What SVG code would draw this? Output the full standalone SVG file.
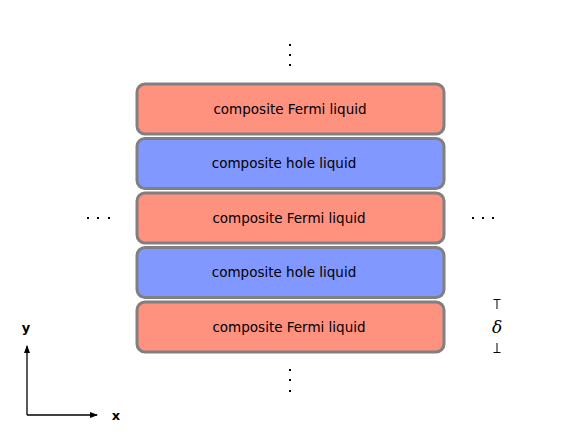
<svg xmlns="http://www.w3.org/2000/svg" width="581" height="436" viewBox="0 0 581 436">
<style>
.box{stroke:#808080;stroke-width:3}
.cfl{fill:#FF917F}
.chl{fill:#8098FF}
.lbl{font-family:"DejaVu Sans",sans-serif;font-size:13.5px;fill:#000;text-anchor:middle}
.dot{fill:#000}
.ax{stroke:#000;stroke-width:1.3;fill:none}
.tick{stroke:#000;stroke-width:1;fill:none}
.axl{font-family:"DejaVu Sans",sans-serif;font-size:13px;font-weight:bold;fill:#000;text-anchor:middle}
</style>
<defs>
<marker id="ah" markerWidth="8" markerHeight="6" refX="7" refY="3" orient="auto" markerUnits="userSpaceOnUse">
<path d="M0,0 L8,3 L0,6 Z" fill="#000"/>
</marker>
</defs>
<rect width="581" height="436" fill="#fff"/>
<g id="layer1"><rect class="box cfl" x="137" y="84" width="307" height="50" rx="8"/><text class="lbl" x="290" y="113.5">composite Fermi liquid</text></g>
<g id="layer2"><rect class="box chl" x="137" y="138.5" width="307" height="50" rx="8"/><text class="lbl" x="284" y="168">composite hole liquid</text></g>
<g id="layer3"><rect class="box cfl" x="137" y="193" width="307" height="50" rx="8"/><text class="lbl" x="289" y="222.5">composite Fermi liquid</text></g>
<g id="layer4"><rect class="box chl" x="137" y="247.5" width="307" height="50" rx="8"/><text class="lbl" x="284" y="277">composite hole liquid</text></g>
<g id="layer5"><rect class="box cfl" x="137" y="302" width="307" height="50" rx="8"/><text class="lbl" x="289" y="331.5">composite Fermi liquid</text></g>
<g id="dots">
<rect class="dot" x="289" y="44" width="2" height="2"/><rect class="dot" x="289" y="54" width="2" height="2"/><rect class="dot" x="289" y="64" width="2" height="2"/>
<rect class="dot" x="289" y="369" width="2" height="2"/><rect class="dot" x="289" y="379" width="2" height="2"/><rect class="dot" x="289" y="390" width="2" height="2"/>
<rect class="dot" x="87" y="217" width="2" height="2"/><rect class="dot" x="97" y="217" width="2" height="2"/><rect class="dot" x="108" y="217" width="2" height="2"/>
<rect class="dot" x="472" y="217" width="2" height="2"/><rect class="dot" x="482" y="217" width="2" height="2"/><rect class="dot" x="492" y="217" width="2" height="2"/>
</g>
<g id="delta">
<path class="tick" d="M493.5,299.5 H500.5 M497,299.5 V309"/>
<text x="497" y="333" font-family="DejaVu Serif,serif" font-style="italic" font-size="17" text-anchor="middle" fill="#000">δ</text>
<path class="tick" d="M493.5,352.5 H500.5 M497,352.5 V343"/>
</g>
<g id="axes">
<path class="ax" d="M27,415 L27,346" marker-end="url(#ah)"/>
<path class="ax" d="M27,415 L97,415" marker-end="url(#ah)"/>
<text class="axl" x="26" y="332">y</text>
<text class="axl" x="116" y="420">x</text>
</g>
</svg>
